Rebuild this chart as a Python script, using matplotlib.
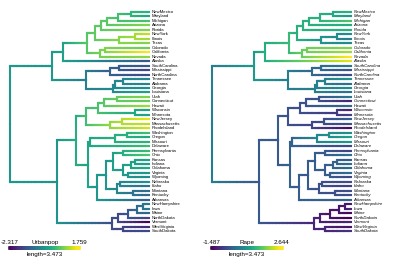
import numpy as np
import matplotlib
matplotlib.use("Agg")
import matplotlib.pyplot as plt
from matplotlib.collections import LineCollection
from matplotlib.colors import Normalize

# tip data (scaled USArrests), in the order the states are listed
states = ["NewMexico", "Maryland", "Michigan", "Arizona", "Florida", "NewYork",
          "Illinois", "Texas", "Colorado", "California", "Nevada", "Alaska",
          "SouthCarolina", "Mississippi", "NorthCarolina", "Tennessee", "Alabama",
          "Georgia", "Louisiana", "Utah", "Connecticut", "Hawaii", "Wisconsin",
          "Minnesota", "NewJersey", "Massachusetts", "RhodeIsland", "Washington",
          "Oregon", "Missouri", "Delaware", "Pennsylvania", "Ohio", "Kansas",
          "Indiana", "Oklahoma", "Virginia", "Wyoming", "Nebraska", "Idaho",
          "Montana", "Kentucky", "Arkansas", "NewHampshire", "Iowa", "Maine",
          "NorthDakota", "Vermont", "WestVirginia", "SouthDakota"]
urbanpop = [0.308, 0.101, 0.584, 0.999, 0.999, 1.413, 1.206, 0.999, 0.861, 1.759,
            1.068, -1.212, -1.212, -1.488, -1.419, -0.452, -0.521, -0.383, 0.032,
            0.999, 0.792, 1.206, 0.032, 0.032, 1.621, 1.344, 1.483, 0.515, 0.101,
            0.308, 0.446, 0.446, 0.654, 0.032, -0.037, 0.170, -0.175, -0.383,
            -0.245, -0.797, -0.866, -0.935, -1.074, -0.659, -0.590, -1.005,
            -1.488, -2.317, -1.834, -1.419]
rape = [1.160, 0.701, 1.481, 1.043, 1.139, 0.520, 0.296, 0.456, 1.865, 2.068,
        2.644, 2.484, 0.135, -0.441, -0.548, 0.605, -0.003, 0.488, 0.103, 0.178,
        -1.082, -0.110, -1.114, -0.676, -0.260, -0.527, -1.381, 0.530, 0.861,
        0.744, -0.580, -0.676, 0.018, -0.345, -0.025, -0.132, -0.057, -0.601,
        -0.505, -0.751, -0.516, -0.527, -0.185, -1.253, -1.060, -1.434, -1.487,
        -1.071, -1.274, -0.900]

# clustering tree: number after ")" is the merge height
tree_str = ("(((((((((NewMexico,Maryland)0.90,Michigan)1.55,Arizona)2.10,Florida)2.40,"
            "((NewYork,Illinois)0.70,Texas)1.50)2.70,((Colorado,California)2.22,Nevada)2.45)3.10,"
            "Alaska)4.30,(((SouthCarolina,Mississippi)1.50,NorthCarolina)1.95,"
            "(((Tennessee,Alabama)1.30,Georgia)1.70,Louisiana)1.80)3.15)4.85,"
            "((((((Utah,Connecticut)1.60,Hawaii)2.25,(Wisconsin,Minnesota)0.70)2.55,"
            "((NewJersey,Massachusetts)1.35,RhodeIsland)1.95)3.15,"
            "((((Washington,Oregon)1.10,Missouri)1.70,Delaware)2.95,"
            "((((Pennsylvania,Ohio)1.30,(((Kansas,Indiana)0.70,Oklahoma)0.90,(Virginia,Wyoming)1.05)1.30)1.80,"
            "((Nebraska,Idaho)1.45,(Montana,Kentucky)0.80)1.60)2.15,Arkansas)2.60)3.05)3.65,"
            "(((((NewHampshire,Iowa)0.30,Maine)0.60,NorthDakota)1.05,Vermont)1.55,"
            "(WestVirginia,SouthDakota)1.30)1.85)4.60)6.946")
legend_length = 3.473
panels = [("Urbanpop", urbanpop, "normal"), ("Rape", rape, "italic")]


def parse_tree(s):
    pos = 0

    def node():
        nonlocal pos
        if s[pos] == "(":
            pos += 1
            kids = [node()]
            while s[pos] == ",":
                pos += 1
                kids.append(node())
            pos += 1
            j = pos
            while pos < len(s) and s[pos] not in ",)":
                pos += 1
            return {"kids": kids, "h": float(s[j:pos])}
        j = pos
        while s[pos] not in ",)":
            pos += 1
        return {"kids": [], "name": s[j:pos], "h": 0.0}

    return node()


root = parse_tree(tree_str)
H = root["h"]

# layout: tips top to bottom, internal nodes at mean of children
nodes, edges = [], []
tip_count = [0]


def layout(nd, parent=None):
    nd["id"] = len(nodes)
    nodes.append(nd)
    nd["x"] = H - nd["h"]
    if parent is not None:
        edges.append((parent["id"], nd["id"]))
    if nd["kids"]:
        for k in nd["kids"]:
            layout(k, nd)
        nd["y"] = np.mean([k["y"] for k in nd["kids"]])
    else:
        nd["y"] = tip_count[0]
        tip_count[0] += 1


layout(root)
n_tips = tip_count[0]


def ancestral(tipval):
    # ML states under Brownian motion
    internal = [nd["id"] for nd in nodes if nd["kids"]]
    idx = {i: k for k, i in enumerate(internal)}
    A = np.zeros((len(internal), len(internal)))
    b = np.zeros(len(internal))
    for p, c in edges:
        w = 1.0 / (nodes[c]["x"] - nodes[p]["x"])
        for a, o in ((p, c), (c, p)):
            if a in idx:
                A[idx[a], idx[a]] += w
                if o in idx:
                    A[idx[a], idx[o]] -= w
                else:
                    b[idx[a]] += w * tipval[nodes[o]["name"]]
    sol = np.linalg.solve(A, b)
    val = np.zeros(len(nodes))
    for nd in nodes:
        val[nd["id"]] = sol[idx[nd["id"]]] if nd["kids"] else tipval[nd["name"]]
    return val


fig = plt.figure(figsize=(4.05, 2.7), dpi=100)
px_unit = 139.0 / H
row = 4.47
cmap = plt.get_cmap("viridis")
steps = np.linspace(0, H, 101)

for k, (title, values, fstyle) in enumerate(panels):
    left = 0 if k == 0 else 200
    root_px = 10 if k == 0 else 212
    width = 200 if k == 0 else 205
    ax = fig.add_axes([left / 405, 0, width / 405, 1])
    ax.set_xlim(-(root_px - left) / px_unit, (left + width - root_px) / px_unit)
    ax.set_ylim((270 - 12) / row, -12 / row)
    ax.axis("off")

    tipval = dict(zip(states, values))
    val = ancestral(tipval)
    norm = Normalize(min(values), max(values))

    segs, cols = [], []
    for p, c in edges:
        x0, x1 = nodes[p]["x"], nodes[c]["x"]
        cuts = [x0] + [s for s in steps if x0 < s < x1] + [x1]
        first = None
        for a, bb in zip(cuts[:-1], cuts[1:]):
            v = val[p] + ((a + bb) / 2 - x0) / (x1 - x0) * (val[c] - val[p])
            col = cmap(norm(v))
            if first is None:
                first = col
            segs.append([(a, nodes[c]["y"]), (bb, nodes[c]["y"])])
            cols.append(col)
        segs.append([(x0, nodes[p]["y"]), (x0, nodes[c]["y"])])
        cols.append(first)
    ax.add_collection(LineCollection(segs, colors=cols, linewidths=1.5,
                                     capstyle="projecting"))

    for nd in nodes:
        if not nd["kids"]:
            ax.annotate(nd["name"], (H, nd["y"]), xytext=(1.8, 0),
                        textcoords="offset points", va="center", ha="left",
                        fontsize=3.1, fontstyle=fstyle, family="Liberation Sans")

    # colour bar legend
    by = (248 - 12) / row
    lx = np.linspace(0, legend_length, 101)
    lsegs = [[(a, by), (bb, by)] for a, bb in zip(lx[:-1], lx[1:])]
    lcols = [cmap(i / 99) for i in range(100)]
    ax.add_collection(LineCollection(lsegs, colors=lcols, linewidths=2.6,
                                     capstyle="projecting"))
    tkw = dict(textcoords="offset points", ha="center", va="center",
               fontsize=4.5, family="Liberation Sans")
    ax.annotate(f"{min(values):.3f}", (0, by), xytext=(0, 4.2), **tkw)
    ax.annotate(f"{max(values):.3f}", (legend_length, by), xytext=(0, 4.2), **tkw)
    ax.annotate(title, (legend_length / 2, by), xytext=(0, 4.2), **tkw)
    ax.annotate(f"length={legend_length}", (legend_length / 2, by), xytext=(0, -4.4), **tkw)

fig.savefig("out.png", dpi=100)
